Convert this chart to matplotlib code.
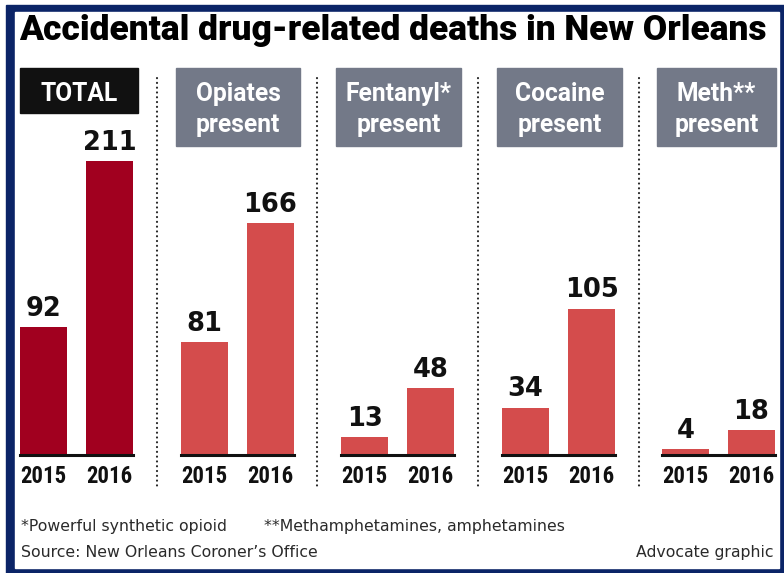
import matplotlib
matplotlib.use("Agg")
import matplotlib.pyplot as plt
from matplotlib.patches import Rectangle
from matplotlib.lines import Line2D

# Accidental drug-related deaths, New Orleans Coroner's Office
years = ["2015", "2016"]
panels = ["TOTAL", "Opiates\npresent", "Fentanyl*\npresent", "Cocaine\npresent", "Meth**\npresent"]
deaths_2015 = [92, 81, 13, 34, 4]
deaths_2016 = [211, 166, 48, 105, 18]
title = "Accidental drug-related deaths in New Orleans"

W, H = 784, 573
WIDE = ["Roboto", "DejaVu Sans"]
NARROW = ["Roboto Condensed", "Archivo Narrow", "Oswald", "DejaVu Sans"]
NAVY = "#0b2467"
TOTAL_RED = "#a1001f"
BAR_RED = "#d44c4c"
HEAD_GRAY = "#737988"
INK = "#111111"

fig = plt.figure(figsize=(W / 100, H / 100), dpi=100)
renderer = fig.canvas.get_renderer()


def fx(px):
    return px / W


def fy(py):
    return 1 - py / H


def fit_size(text, width_px, **kw):
    # font size (pt) that makes `text` span width_px pixels
    t = fig.text(0, 0, text, fontsize=20, **kw)
    wpx = t.get_window_extent(renderer).width
    t.remove()
    return 20 * width_px / wpx


# navy frame
fig.patches.append(Rectangle((fx(6), fy(573)), fx(778), 568 / H,
                             transform=fig.transFigure, color=NAVY, zorder=-10))
fig.patches.append(Rectangle((fx(15), fy(568)), fx(764), 556 / H,
                             transform=fig.transFigure, color="white", zorder=-9))

title_kw = dict(family=WIDE, weight=900)
title_size = fit_size(title, 749, **title_kw)
fig.text(fx(19), fy(40), title, fontsize=title_size, color="black",
         ha="left", va="baseline", **title_kw)

head_kw = dict(family=WIDE, weight="bold")
head_size = fit_size("present", 84, **head_kw)
year_kw = dict(family=NARROW, weight="bold")
year_size = fit_size("2015", 46, **year_kw)

bar_lefts = [20, 181, 341, 502, 662]
box_spans = [(20, 138), (176, 300), (336, 461), (497, 622), (657, 776)]
seps = [157, 317, 478, 639]

px_per_unit = 1.395
baseline = 455
ax_h = 300
bar_px, step_px = 47, 66
w = bar_px / step_px

for i, name in enumerate(panels):
    left = bar_lefts[i]
    ax = fig.add_axes([fx(left), fy(baseline), (bar_px + step_px) / W, ax_h / H])
    ax.set_xlim(-w / 2, 1 + w / 2)
    ax.set_ylim(0, ax_h / px_per_unit)
    ax.axis("off")
    vals = [deaths_2015[i], deaths_2016[i]]
    color = TOTAL_RED if i == 0 else BAR_RED
    ax.bar([0, 1], vals, width=w, color=color, zorder=2)
    ax.axhline(0, color=INK, lw=2.2, zorder=3, clip_on=False)
    for x, v, yr in zip([0, 1], vals, years):
        ax.annotate(str(v), (x, v), xytext=(0, 8), textcoords="offset points",
                    ha="center", va="baseline", fontsize=18.5, weight="bold",
                    color=INK, annotation_clip=False)
        ax.annotate(yr, (x, 0), xytext=(0, -20.3), textcoords="offset points",
                    ha="center", va="baseline", fontsize=year_size,
                    color=INK, annotation_clip=False, **year_kw)

    x0, x1 = box_spans[i]
    if i == 0:
        y0, y1 = 68, 113
        face = INK
    else:
        y0, y1 = 68, 146
        face = HEAD_GRAY
    fig.patches.append(Rectangle((fx(x0), fy(y1)), fx(x1 - x0), (y1 - y0) / H,
                                 transform=fig.transFigure, color=face, zorder=-5))
    for ln, by in zip(name.split("\n"), [101, 132]):
        fig.text(fx((x0 + x1) / 2), fy(by), ln, fontsize=head_size,
                 color="white", ha="center", va="baseline", **head_kw)

# dotted separators between panels
for sx in seps:
    fig.lines.append(Line2D([fx(sx), fx(sx)], [fy(78), fy(487)],
                            transform=fig.transFigure, color="#222222", lw=1.5,
                            linestyle=(0, (0.1, 2.2)), dash_capstyle="round"))

note_kw = dict(fontsize=11.3, color="#2a2a2a", va="baseline")
fig.text(fx(21), fy(531), "*Powerful synthetic opioid", ha="left", **note_kw)
fig.text(fx(264), fy(531), "**Methamphetamines, amphetamines", ha="left", **note_kw)
fig.text(fx(21), fy(557), "Source: New Orleans Coroner\u2019s Office", ha="left", **note_kw)
fig.text(fx(773), fy(557), "Advocate graphic", ha="right", **note_kw)

fig.savefig("out.png", dpi=100)
